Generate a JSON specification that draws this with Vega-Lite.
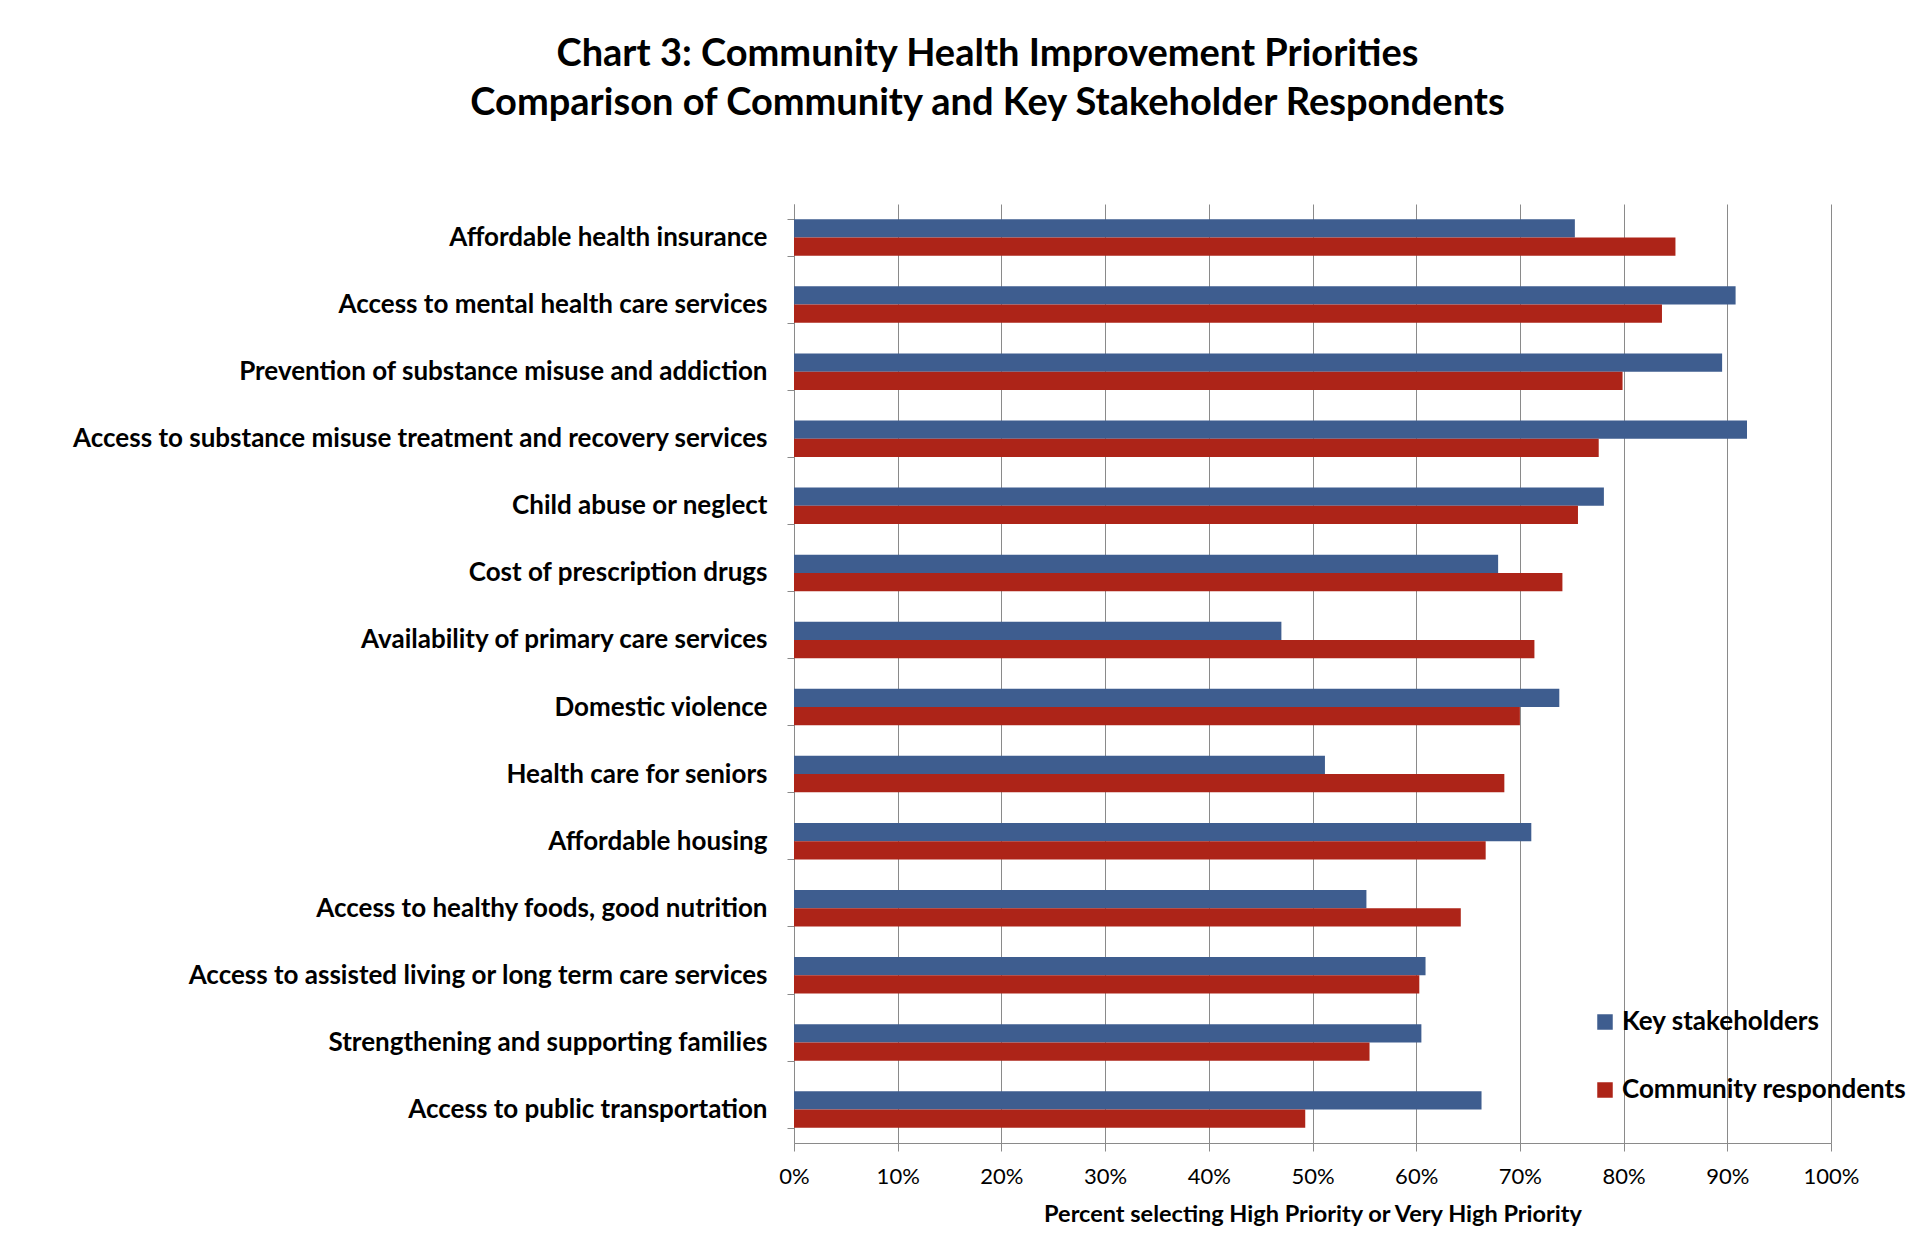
{
  "$schema": "https://vega.github.io/schema/vega-lite/v6.json",
  "width": 1037,
  "height": 939,
  "autosize": {"type": "none"},
  "padding": {"left": 794, "top": 204, "right": 87, "bottom": 102},
  "background": "white",
  "title": {
    "text": ["Chart 3: Community Health Improvement Priorities", "Comparison of Community and Key Stakeholder Respondents"],
    "anchor": "middle",
    "dx": -325,
    "offset": 68,
    "font": "Lato",
    "fontSize": 38,
    "fontWeight": "bold",
    "color": "black",
    "lineHeight": 49
  },
  "data": {
    "values": [
      {"category": "Affordable health insurance", "series": "Key stakeholders", "value": 75.3},
      {"category": "Affordable health insurance", "series": "Community respondents", "value": 85.0},
      {"category": "Access to mental health care services", "series": "Key stakeholders", "value": 90.8},
      {"category": "Access to mental health care services", "series": "Community respondents", "value": 83.7},
      {"category": "Prevention of substance misuse and addiction ", "series": "Key stakeholders", "value": 89.5},
      {"category": "Prevention of substance misuse and addiction ", "series": "Community respondents", "value": 79.9},
      {"category": "Access to substance misuse treatment and recovery services", "series": "Key stakeholders", "value": 91.9},
      {"category": "Access to substance misuse treatment and recovery services", "series": "Community respondents", "value": 77.6},
      {"category": "Child abuse or neglect", "series": "Key stakeholders", "value": 78.1},
      {"category": "Child abuse or neglect", "series": "Community respondents", "value": 75.6},
      {"category": "Cost of prescription drugs", "series": "Key stakeholders", "value": 67.9},
      {"category": "Cost of prescription drugs", "series": "Community respondents", "value": 74.1},
      {"category": "Availability of primary care services", "series": "Key stakeholders", "value": 47.0},
      {"category": "Availability of primary care services", "series": "Community respondents", "value": 71.4},
      {"category": "Domestic violence", "series": "Key stakeholders", "value": 73.8},
      {"category": "Domestic violence", "series": "Community respondents", "value": 70.0},
      {"category": "Health care for seniors", "series": "Key stakeholders", "value": 51.2},
      {"category": "Health care for seniors", "series": "Community respondents", "value": 68.5},
      {"category": "Affordable housing", "series": "Key stakeholders", "value": 71.1},
      {"category": "Affordable housing", "series": "Community respondents", "value": 66.7},
      {"category": "Access to healthy foods, good nutrition", "series": "Key stakeholders", "value": 55.2},
      {"category": "Access to healthy foods, good nutrition", "series": "Community respondents", "value": 64.3},
      {"category": "Access to assisted living or long term care services", "series": "Key stakeholders", "value": 60.9},
      {"category": "Access to assisted living or long term care services", "series": "Community respondents", "value": 60.3},
      {"category": "Strengthening and supporting families", "series": "Key stakeholders", "value": 60.5},
      {"category": "Strengthening and supporting families", "series": "Community respondents", "value": 55.5},
      {"category": "Access to public transportation", "series": "Key stakeholders", "value": 66.3},
      {"category": "Access to public transportation", "series": "Community respondents", "value": 49.3}
    ]
  },
  "mark": {"type": "bar"},
  "encoding": {
    "y": {
      "field": "category",
      "type": "nominal",
      "sort": null,
      "scale": {"paddingInner": 0.456, "paddingOuter": 0.228},
      "axis": {
        "title": null,
        "tickBand": "extent",
        "tickSize": 7,
        "tickColor": "#8a8a8a",
        "domainColor": "#8a8a8a",
        "labelFont": "Lato",
        "labelFontSize": 26,
        "labelFontWeight": "bold",
        "labelColor": "black",
        "labelPadding": 20,
        "labelLimit": 0
      }
    },
    "yOffset": {
      "field": "series",
      "type": "nominal",
      "sort": ["Key stakeholders", "Community respondents"],
      "scale": {"paddingInner": 0, "paddingOuter": 0}
    },
    "x": {
      "field": "value",
      "type": "quantitative",
      "scale": {"domain": [0, 100], "nice": false},
      "axis": {
        "values": [0, 10, 20, 30, 40, 50, 60, 70, 80, 90, 100],
        "labelExpr": "datum.value + '%'",
        "labelFlush": false,
        "title": "Percent selecting High Priority or Very High Priority",
        "grid": true,
        "gridColor": "#8a8a8a",
        "gridWidth": 1,
        "tickColor": "#8a8a8a",
        "tickSize": 8,
        "domainColor": "#8a8a8a",
        "labelFont": "Lato",
        "labelFontSize": 22,
        "labelColor": "black",
        "labelPadding": 15,
        "titleFont": "Lato",
        "titleFontSize": 23.5,
        "titleFontWeight": "bold",
        "titleColor": "black",
        "titlePadding": 15
      }
    },
    "color": {
      "field": "series",
      "type": "nominal",
      "scale": {"domain": ["Key stakeholders", "Community respondents"], "range": ["#3e5d8f", "#ad2418"]},
      "legend": {
        "title": null,
        "orient": "none",
        "legendX": 798,
        "legendY": 805,
        "padding": 0,
        "symbolType": "square",
        "symbolSize": 240,
        "symbolStrokeWidth": 0,
        "labelFont": "Lato",
        "labelFontSize": 26,
        "labelFontWeight": "bold",
        "labelColor": "black",
        "labelOffset": 4,
        "rowPadding": 42,
        "labelLimit": 0
      }
    }
  },
  "config": {
    "view": {"stroke": null}
  }
}
